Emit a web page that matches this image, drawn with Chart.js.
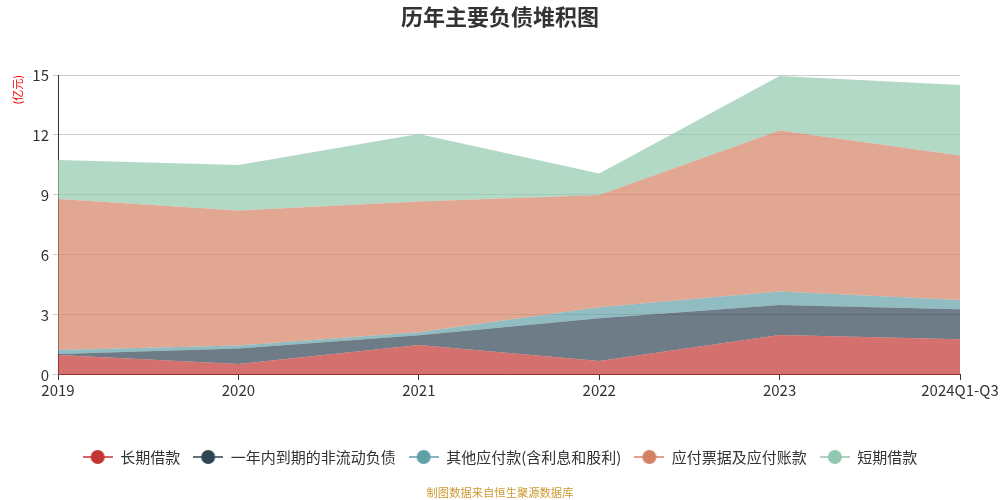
<!DOCTYPE html>
<html>
<head>
<meta charset="utf-8">
<script src="https://cdn.jsdelivr.net/npm/chart.js@4/dist/chart.umd.min.js"></script>
<style>
  html, body { margin: 0; padding: 0; background: #fff; }
  #wrap { width: 1000px; height: 500px; }
</style>
</head>
<body>
<div id="wrap"><canvas id="liability-chart" width="1000" height="500"></canvas></div>
<script>
// categories and series (亿元)
let years = ['2019', '2020', '2021', '2022', '2023', '2024Q1-Q3'];
let longLoans = [1.0, 0.55, 1.5, 0.7, 2.0, 1.78];
let dueWithinYear = [0.05, 0.77, 0.48, 2.13, 1.5, 1.5];
let otherPayables = [0.2, 0.15, 0.15, 0.55, 0.67, 0.47];
let notesPayable = [7.55, 6.75, 6.54, 5.62, 8.05, 7.22];
let shortLoans = [1.95, 2.28, 3.38, 1.08, 2.73, 3.53];
let yTicks = [0, 3, 6, 9, 12, 15];

let seriesNames = ['长期借款', '一年内到期的非流动负债', '其他应付款(含利息和股利)', '应付票据及应付账款', '短期借款'];
let seriesColors = ['#c23531', '#2f4554', '#61a0a8', '#d48265', '#91c7ae'];
let seriesData = [longLoans, dueWithinYear, otherPayables, notesPayable, shortLoans];

const FONT = '"Noto Sans CJK SC", "Noto Sans", sans-serif';

function hexToRgba(hex, a) {
    let n = parseInt(hex.slice(1), 16);
    return 'rgba(' + (n >> 16) + ',' + ((n >> 8) & 255) + ',' + (n & 255) + ',' + a + ')';
}

// legend marker: short line with a dot in the middle
function makeMarker(color) {
    let c = document.createElement('canvas');
    c.width = 30;
    c.height = 16;
    let g = c.getContext('2d');
    g.strokeStyle = color;
    g.lineWidth = 1.5;
    g.beginPath();
    g.moveTo(0, 8);
    g.lineTo(30, 8);
    g.stroke();
    g.fillStyle = color;
    g.beginPath();
    g.arc(15, 8, 7, 0, Math.PI * 2);
    g.fill();
    return c;
}

let datasets = [];
for (let i = 0; i < seriesNames.length; i++) {
    datasets.push({
        label: seriesNames[i],
        data: seriesData[i],
        fill: i === 0 ? 'origin' : '-1',
        backgroundColor: hexToRgba(seriesColors[i], 0.7),
        borderColor: hexToRgba(seriesColors[i], 0.7),
        borderWidth: 0,
        pointRadius: 0,
        pointHoverRadius: 0,
        pointStyle: makeMarker(seriesColors[i]),
        tension: 0
    });
}

// title, legend and source line are centred on the whole canvas, not the padded area
let fullWidthBlocks = {
    id: 'fullWidthBlocks',
    afterLayout: function (chart) {
        chart.boxes.forEach(b => {
            if (!(b instanceof Chart.Scale)) {
                b.left = 0;
                b.right = chart.width;
                b.width = chart.width;
            }
        });
    }
};

let config = {
    type: 'line',
    data: {
        labels: years,
        datasets: datasets
    },
    options: {
        responsive: false,
        animation: false,
        layout: {
            padding: { left: 0, right: 40, top: 0, bottom: 0 }
        },
        scales: {
            x: {
                offset: false,
                grid: {
                    display: true,
                    drawOnChartArea: false,
                    drawTicks: true,
                    tickLength: 5,
                    color: '#333'
                },
                border: { display: true, color: '#333', width: 1 },
                ticks: {
                    color: '#333',
                    font: { family: FONT, size: 15 },
                    maxRotation: 0,
                    autoSkip: false,
                    padding: 1
                },
                afterFit: function (scale) { scale.height = 61.5; }
            },
            y: {
                stacked: true,
                min: 0,
                max: 15,
                afterBuildTicks: function (scale) {
                    scale.ticks = yTicks.map(v => ({ value: v }));
                },
                grid: {
                    color: '#ccc',
                    tickLength: 5,
                    drawTicks: true
                },
                border: { display: true, color: '#333', width: 1 },
                ticks: {
                    color: '#333',
                    font: { family: FONT, size: 15 },
                    padding: 4
                },
                title: {
                    display: true,
                    text: '(亿元)',
                    align: 'end',
                    color: '#ff0000',
                    font: { family: FONT, size: 11 },
                    padding: { top: 11, bottom: 0 }
                },
                afterFit: function (scale) { scale.width = 58; }
            }
        },
        plugins: {
            title: {
                display: true,
                text: '历年主要负债堆积图',
                color: '#333',
                font: { family: FONT, size: 22, weight: 'bold' },
                padding: { top: 3, bottom: 45.6 }
            },
            subtitle: {
                display: true,
                position: 'bottom',
                text: '制图数据来自恒生聚源数据库',
                color: '#cc9933',
                font: { family: FONT, size: 11.3 },
                padding: { top: 11, bottom: 1 }
            },
            legend: {
                position: 'bottom',
                labels: {
                    usePointStyle: true,
                    pointStyleWidth: 30,
                    boxHeight: 14,
                    padding: 13,
                    color: '#333',
                    font: { family: FONT, size: 15 }
                }
            },
            tooltip: { enabled: false }
        }
    },
    plugins: [fullWidthBlocks]
};

let chart = new Chart(document.getElementById('liability-chart').getContext('2d'), config);
</script>
</body>
</html>
